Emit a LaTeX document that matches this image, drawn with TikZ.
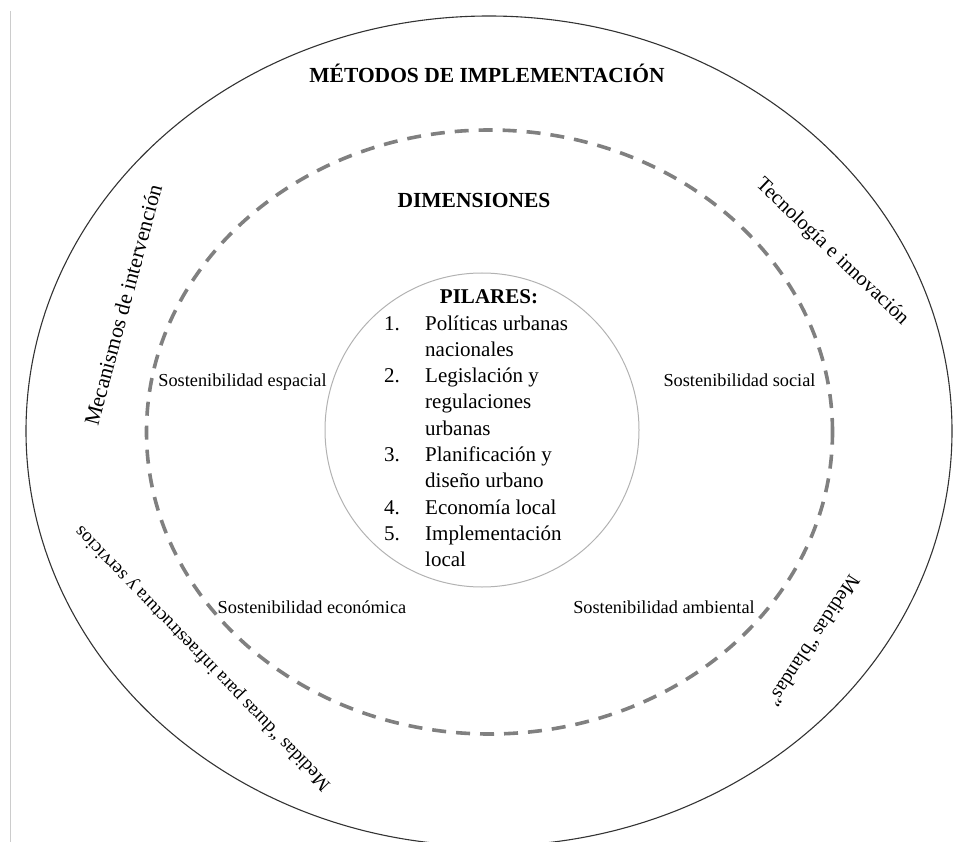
\documentclass[tikz,border=0pt]{standalone}
\usepackage{fontspec}
\setmainfont{Liberation Serif}
\begin{document}
\begin{tikzpicture}[x=1pt,y=-1pt,
  outerring/.style={draw=black!80, line width=1.1pt},
  dimring/.style={draw=black!50, line width=3.6pt, dash pattern=on 14pt off 10pt},
  pillarring/.style={draw=black!30, line width=1pt},
  marginline/.style={draw=black!20, line width=0.8pt},
  heading/.style={font=\bfseries\fontsize{21.5}{26}\selectfont, inner sep=0pt, anchor=base},
  dimlabel/.style={font=\fontsize{18.3}{22}\selectfont, inner sep=0pt, anchor=base},
  methodlabel/.style={inner sep=0pt, anchor=center},
  itemnum/.style={font=\fontsize{21}{26}\selectfont, inner sep=0pt, anchor=base east},
  itemtext/.style={font=\fontsize{21}{26}\selectfont, inner sep=0pt, anchor=base west},
]
\useasboundingbox (0,0) rectangle (958,842);

% page margin rule
\coordinate (mtop) at (10,11);
\coordinate (mbot) at (10,842);
\draw[marginline] (mtop) -- (mbot);

% rings
\draw[outerring] (489,431) ellipse [x radius=463pt, y radius=415pt];
\draw[dimring] (489.5,432) ellipse [x radius=343pt, y radius=302pt];
\draw[pillarring] (482,430) circle [radius=157pt];

% outer ring: methods
\node[heading] (metodos) at (487,83) {MÉTODOS DE IMPLEMENTACIÓN};
\node[methodlabel, rotate=75, font=\fontsize{21.6}{25}\selectfont] (mecanismos) at (123,305) {Mecanismos de intervención};
\node[methodlabel, rotate=-43.5, font=\fontsize{20.6}{24}\selectfont] (tecnologia) at (832,252) {Tecnología e innovación};
\node[methodlabel, rotate=134, font=\fontsize{19}{23}\selectfont] (duras) at (203,658) {Medidas “duras para infraestructura y servicios};
\node[methodlabel, rotate=-123, font=\fontsize{20}{24}\selectfont] (blandas) at (814,641) {Medidas “blandas”};

% middle ring: dimensions
\node[heading] (dimensiones) at (474,208) {DIMENSIONES};
\node[dimlabel] (espacial) at (242.5,386) {Sostenibilidad espacial};
\node[dimlabel] (social) at (739.5,386) {Sostenibilidad social};
\node[dimlabel] (economica) at (312,613) {Sostenibilidad económica};
\node[dimlabel] (ambiental) at (664,613) {Sostenibilidad ambiental};

% centre: pillars
\node[heading, font=\bfseries\fontsize{21}{26}\selectfont] (pilares) at (489,303) {PILARES:};
\node[itemnum] (n1) at (400,330) {1.};
\node[itemtext] (p1a) at (425,330) {Políticas urbanas};
\node[itemtext] (p1b) at (425,356.3) {nacionales};
\node[itemnum] (n2) at (400,382.6) {2.};
\node[itemtext] (p2a) at (425,382.6) {Legislación y};
\node[itemtext] (p2b) at (425,408.9) {regulaciones};
\node[itemtext] (p2c) at (425,435.2) {urbanas};
\node[itemnum] (n3) at (400,461.5) {3.};
\node[itemtext] (p3a) at (425,461.5) {Planificación y};
\node[itemtext] (p3b) at (425,487.8) {diseño urbano};
\node[itemnum] (n4) at (400,514.1) {4.};
\node[itemtext] (p4a) at (425,514.1) {Economía local};
\node[itemnum] (n5) at (400,540.4) {5.};
\node[itemtext] (p5a) at (425,540.4) {Implementación};
\node[itemtext] (p5b) at (425,566.7) {local};
\end{tikzpicture}
\end{document}
